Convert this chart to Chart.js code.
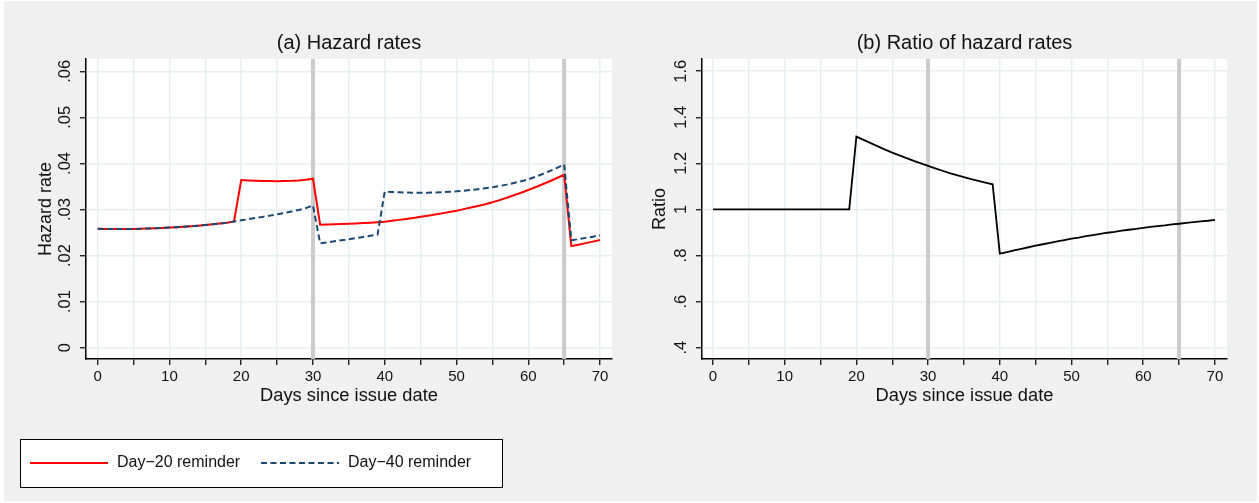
<!DOCTYPE html>
<html>
<head>
<meta charset="utf-8">
<script src="https://cdn.jsdelivr.net/npm/chart.js@4.4.1/dist/chart.umd.min.js"></script>
<style>
  body { margin: 0; background: #fff; }
  #bg { position: absolute; left: 4px; top: 1px; width: 1253px; height: 500px; background: #f0f0f0; }
  .panel { position: absolute; top: 0; }
</style>
</head>
<body>
<div id="bg"></div>
<div class="panel" style="left:0"><canvas id="hazardChart" width="630" height="503"></canvas></div>
<div class="panel" style="left:630px"><canvas id="ratioChart" width="629" height="503"></canvas></div>
<script>
const days = [0,1,2,3,4,5,6,7,8,9,10,11,12,13,14,15,16,17,18,19,20,21,22,23,24,25,26,27,28,29,30,31,32,33,34,35,36,37,38,39,40,41,42,43,44,45,46,47,48,49,50,51,52,53,54,55,56,57,58,59,60,61,62,63,64,65,66,67,68,69,70];

const day20Reminder = [
  .02580,.02577,.02575,.02575,.02576,.02578,.02582,.02587,.02593,.02600,
  .02608,.02617,.02627,.02638,.02650,.02664,.02679,.02695,.02713,.02740,
  .03640,.03632,.03625,.03620,.03617,.03615,.03617,.03622,.03632,.03647,.03668,
  .02670,.02674,.02678,.02684,.02690,.02697,.02705,.02714,.02724,.02735,
  .02755,.02775,.02795,.02818,.02842,.02866,.02890,.02916,.02944,.02974,
  .03008,.03042,.03078,.03116,.03156,.03204,.03254,.03308,.03364,.03423,
  .03484,.03548,.03614,.03684,.03755,
  .02205,.02237,.02270,.02303,.02338
];

const day40Reminder = [
  .02580,.02577,.02575,.02575,.02576,.02578,.02582,.02587,.02593,.02600,
  .02608,.02617,.02627,.02638,.02650,.02664,.02679,.02695,.02713,.02740,
  .02765,.02790,.02815,.02840,.02867,.02895,.02925,.02957,.02990,.03030,.03090,
  .02266,.02288,.02310,.02333,.02356,.02380,.02404,.02428,.02453,
  .03387,.03380,.03374,.03369,.03366,.03365,.03366,.03370,.03377,.03385,.03395,
  .03409,.03425,.03442,.03461,.03482,.03510,.03540,.03575,.03613,.03655,
  .03710,.03770,.03835,.03905,.03981,
  .02331,.02357,.02384,.02411,.02440
];

const hazardRatio = [
  1,1,1,1,1,1,1,1,1,1,1,1,1,1,1,1,1,1,1,1,
  1.316,1.302,1.288,1.274,1.260,1.247,1.235,1.223,1.211,1.200,
  1.189,1.178,1.168,1.158,1.149,1.140,1.132,1.124,1.116,1.109,
  .808,.815,.822,.829,.836,.843,.849,.855,.861,.867,
  .873,.878,.884,.889,.894,.899,.903,.908,.912,.916,
  .920,.924,.928,.931,.935,.938,.942,.945,.948,.951,.955
];

const xTickValues = [0,5,10,15,20,25,30,35,40,45,50,55,60,65,70];
const xTickLabels = ['0','','10','','20','','30','','40','','50','','60','','70'];
const hazardTicks = [0,.01,.02,.03,.04,.05,.06];
const hazardTickLabels = ['0','.01','.02','.03','.04','.05','.06'];
const ratioTicks = [.4,.6,.8,1,1.2,1.4,1.6];
const ratioTickLabels = ['.4','.6','.8','1','1.2','1.4','1.6'];
const reminderDays = [30, 65];

const FONT = '"Liberation Sans", Arial, sans-serif';
const INK = '#111';

// white plot region, grey reference lines, rotated y labels, panel title, boxed legend
const stataPanel = {
  id: 'stataPanel',
  beforeDraw(chart) {
    const { ctx, chartArea: a } = chart;
    ctx.save();
    ctx.fillStyle = '#fff';
    ctx.fillRect(a.left, a.top, a.right - a.left, a.bottom - a.top);
    ctx.restore();
  },
  beforeDatasetsDraw(chart, args, opts) {
    const { ctx, chartArea: a, scales: { x } } = chart;
    ctx.save();
    ctx.strokeStyle = '#cbcbcb';
    ctx.lineWidth = 4;
    ctx.beginPath();
    opts.refLines.forEach(v => {
      const px = x.getPixelForValue(v);
      ctx.moveTo(px, a.top);
      ctx.lineTo(px, a.bottom);
    });
    ctx.stroke();
    ctx.restore();
  },
  afterDraw(chart, args, opts) {
    const { ctx, chartArea: a, scales: { y } } = chart;
    ctx.save();
    ctx.fillStyle = INK;
    ctx.textAlign = 'center';
    ctx.textBaseline = 'middle';

    ctx.font = '20px ' + FONT;
    ctx.fillText(opts.title, (a.left + a.right) / 2, 43);

    ctx.font = '16.5px ' + FONT;
    y.ticks.forEach((t, i) => {
      ctx.save();
      ctx.translate(a.left - 21, y.getPixelForValue(t.value));
      ctx.rotate(-Math.PI / 2);
      ctx.fillText(opts.yLabels[i], 0, 0);
      ctx.restore();
    });

    const lg = opts.legend;
    if (lg) {
      ctx.fillStyle = '#fff';
      ctx.fillRect(lg.left, lg.top, lg.width, lg.height);
      ctx.strokeStyle = '#000';
      ctx.lineWidth = 1;
      ctx.strokeRect(lg.left + 0.5, lg.top + 0.5, lg.width, lg.height);
      const cy = lg.top + lg.height / 2;
      ctx.font = '16px ' + FONT;
      ctx.textAlign = 'left';
      chart.data.datasets.forEach((ds, i) => {
        const x0 = lg.items[i];
        ctx.beginPath();
        ctx.strokeStyle = ds.borderColor;
        ctx.lineWidth = ds.borderWidth;
        ctx.setLineDash(ds.borderDash || []);
        ctx.moveTo(x0, cy);
        ctx.lineTo(x0 + 78, cy);
        ctx.stroke();
        ctx.setLineDash([]);
        ctx.fillStyle = INK;
        ctx.fillText(ds.label, x0 + 87, cy);
      });
    }
    ctx.restore();
  }
};

function xAxis(min, max) {
  return {
    type: 'linear', min: min, max: max,
    afterBuildTicks: s => { s.ticks = xTickValues.map(v => ({ value: v })); },
    afterFit: s => { s.height = 60; },
    grid: { color: '#e6eff1', lineWidth: 1.5, tickLength: 6, tickColor: '#000', tickWidth: 1.2 },
    border: { color: '#000', width: 1.5 },
    ticks: {
      autoSkip: false, maxRotation: 0, padding: 3, color: INK,
      font: { family: FONT, size: 15 },
      callback: (v, i) => xTickLabels[i]
    },
    title: {
      display: true, text: 'Days since issue date', color: INK,
      font: { family: FONT, size: 18.3 }, padding: { top: 0, bottom: 12 }
    }
  };
}

function yAxis(min, max, ticks, width, titleText, titlePad) {
  return {
    type: 'linear', min: min, max: max,
    afterBuildTicks: s => { s.ticks = ticks.map(v => ({ value: v })); },
    afterFit: s => { s.width = width; },
    grid: { color: '#e6eff1', lineWidth: 1.5, tickLength: 6, tickColor: '#000', tickWidth: 1.2 },
    border: { color: '#000', width: 1.5 },
    ticks: { display: false },
    title: {
      display: true, text: titleText, color: INK,
      font: { family: FONT, size: 18 }, padding: { top: titlePad, bottom: 0 }
    }
  };
}

const pts = vals => days.map((d, i) => ({ x: d, y: vals[i] }));

new Chart(document.getElementById('hazardChart'), {
  type: 'line',
  data: {
    datasets: [{
      label: 'Day\u221220 reminder',
      data: pts(day20Reminder),
      borderColor: '#ff0000',
      borderWidth: 2,
      order: 1
    }, {
      label: 'Day\u221240 reminder',
      data: pts(day40Reminder),
      borderColor: '#1a476f',
      borderWidth: 2,
      borderDash: [6, 3.5],
      order: 0
    }]
  },
  options: {
    responsive: false,
    animation: false,
    layout: { padding: { left: 0, right: 18, top: 59, bottom: 84 } },
    elements: { point: { radius: 0 }, line: { tension: 0 } },
    scales: {
      x: xAxis(-1.63, 71.67),
      y: yAxis(-0.00245, 0.06267, hazardTicks, 86, 'Hazard rate', 35)
    },
    plugins: {
      legend: { display: false },
      tooltip: { enabled: false },
      stataPanel: {
        title: '(a) Hazard rates',
        refLines: reminderDays,
        yLabels: hazardTickLabels,
        legend: { left: 20, top: 439, width: 482, height: 48, items: [30, 261] }
      }
    }
  },
  plugins: [stataPanel]
});

new Chart(document.getElementById('ratioChart'), {
  type: 'line',
  data: {
    datasets: [{
      label: 'Ratio',
      data: pts(hazardRatio),
      borderColor: '#000',
      borderWidth: 1.8
    }]
  },
  options: {
    responsive: false,
    animation: false,
    layout: { padding: { left: 0, right: 32, top: 59, bottom: 84 } },
    elements: { point: { radius: 0 }, line: { tension: 0 } },
    scales: {
      x: xAxis(-1.53, 71.68),
      y: yAxis(0.351, 1.653, ratioTicks, 72, 'Ratio', 19)
    },
    plugins: {
      legend: { display: false },
      tooltip: { enabled: false },
      stataPanel: {
        title: '(b) Ratio of hazard rates',
        refLines: reminderDays,
        yLabels: ratioTickLabels,
        legend: null
      }
    }
  },
  plugins: [stataPanel]
});
</script>
</body>
</html>
